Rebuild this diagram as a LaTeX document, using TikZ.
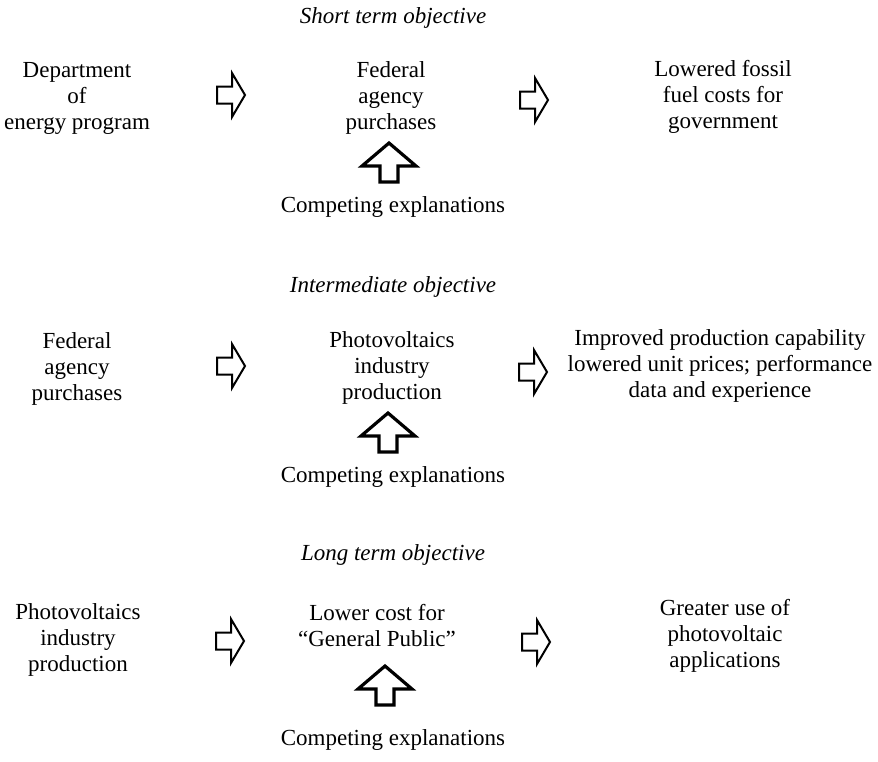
\documentclass[tikz,border=0pt]{standalone}
\usepackage{fontspec}
\setmainfont{Liberation Serif}
\usetikzlibrary{positioning}

\tikzset{
  txt/.style={align=center, inner sep=0pt, font=\fontsize{11.5}{13}\selectfont},
  ttl/.style={align=center, inner sep=0pt, font=\fontsize{11.5}{13}\selectfont\itshape},
  rarrow/.pic={
    \filldraw[fill=white, line width=1pt, line join=miter]
      (0,-8.5) -- (15,-8.5) -- (15,-22) -- (28,0) -- (15,22) -- (15,8.5) -- (0,8.5) -- cycle;
  },
  uarrow/.pic={
    \filldraw[fill=white, line width=1.6pt, line join=miter]
      (-9,0) -- (-9,-16) -- (-27,-16) -- (0,-39) -- (27,-16) -- (9,-16) -- (9,0) -- cycle;
  }
}

\begin{document}
\begin{tikzpicture}[x=0.5pt, y=-0.5pt]
    \useasboundingbox (0,0) rectangle (878,761);

    % the titles
    \node[ttl] (t1) at (393,18) {Short term objective};
    \node[ttl] (t2) at (393,287) {Intermediate objective};
    \node[ttl] (t3) at (393,555) {Long term objective};

    % first row
    \node[txt] (l1) at (77,98) {Department\\of\\energy program};
    \node[txt] (m1) at (391,98) {Federal\\agency\\purchases};
    \node[txt] (r1) at (723,97) {Lowered fossil\\fuel costs for\\government};
    \node[txt] (c1) at (393,207) {Competing explanations};

    % second row
    \node[txt] (l2) at (77,369) {Federal\\agency\\purchases};
    \node[txt] (m2) at (392,368) {Photovoltaics\\industry\\production};
    \node[txt] (r2) at (720,366) {Improved production capability\\lowered unit prices; performance\\data and experience};
    \node[txt] (c2) at (393,477) {Competing explanations};

    % third row
    \node[txt] (l3) at (78,640) {Photovoltaics\\industry\\production};
    \node[txt] (m3) at (377,626) {Lower cost for\\``General Public''};
    \node[txt] (r3) at (725,636) {Greater use of\\photovoltaic\\applications};
    \node[txt] (c3) at (393,740) {Competing explanations};

    % the block arrows
    \pic (a1) at (217,95) {rarrow};
    \pic (b1) at (520,100) {rarrow};
    \pic (u1) at (389,182) {uarrow};

    \pic (a2) at (217,366) {rarrow};
    \pic (b2) at (519,372) {rarrow};
    \pic (u2) at (388,452) {uarrow};

    \pic (a3) at (216,641) {rarrow};
    \pic (b3) at (522,642) {rarrow};
    \pic (u3) at (385,705) {uarrow};

\end{tikzpicture}
\end{document}
